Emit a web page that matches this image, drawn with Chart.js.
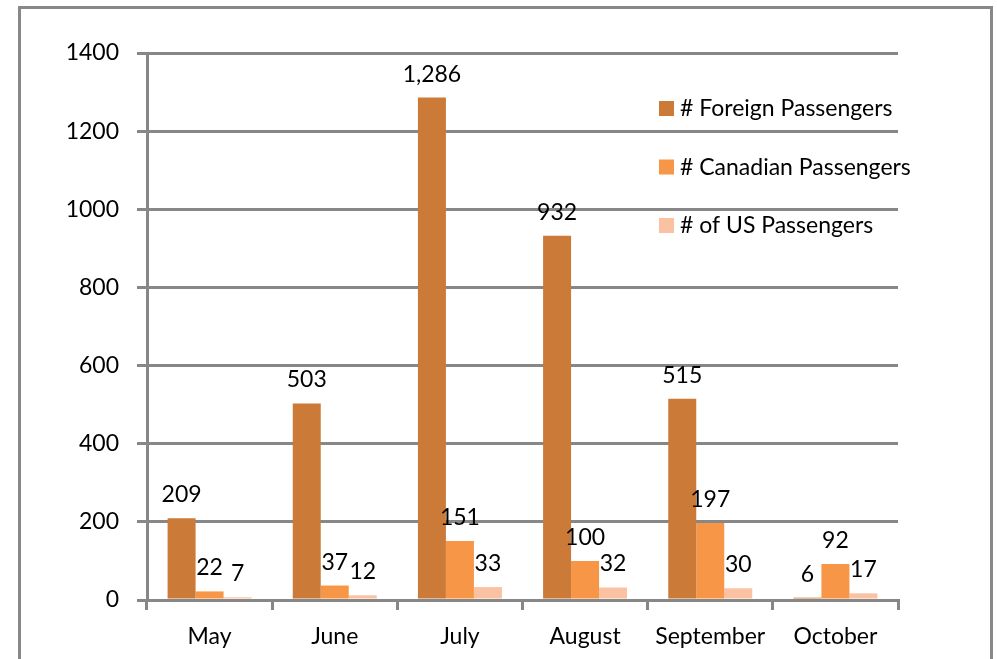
<!DOCTYPE html>
<html>
<head>
<meta charset="utf-8">
<script src="https://cdn.jsdelivr.net/npm/chart.js@4"></script>
<style>
    html, body { margin: 0; padding: 0; background: #fff; overflow: hidden; }
    #frame {
        position: absolute; left: 18px; top: 6px;
        width: 969px; height: 700px;
        border: 3px solid #888888;
    }
    #chart { position: absolute; left: 0; top: 0; }
</style>
</head>
<body>
<div id="frame"></div>
<canvas id="chart" width="997" height="659"></canvas>
<script>
// Chart data
const months = ['May', 'June', 'July', 'August', 'September', 'October'];
const foreignPassengers = [209, 503, 1286, 932, 515, 6];
const canadianPassengers = [22, 37, 151, 100, 197, 92];
const usPassengers = [7, 12, 33, 32, 30, 17];
const yTicks = [0, 200, 400, 600, 800, 1000, 1200, 1400];

const FONT = 'Lato, Calibri, sans-serif';
const FONT_SIZE = 23;
const GRID = '#878787';

// Value labels above each bar
const valueLabels = {
    id: 'valueLabels',
    afterDatasetsDraw(chart) {
        const ctx = chart.ctx;
        ctx.save();
        ctx.font = FONT_SIZE + 'px ' + FONT;
        ctx.fillStyle = '#000';
        ctx.textAlign = 'center';
        ctx.textBaseline = 'alphabetic';
        chart.data.datasets.forEach((ds, i) => {
            chart.getDatasetMeta(i).data.forEach((bar, j) => {
                ctx.fillText(ds.data[j].toLocaleString('en-US'), bar.x, bar.y - 16);
            });
        });
        ctx.restore();
    }
};

// Legend sitting inside the plot, top right
const boxLegend = {
    id: 'boxLegend',
    afterDraw(chart) {
        const ctx = chart.ctx;
        const x = chart.chartArea.right - 239;
        let y = chart.chartArea.top + 55;
        ctx.save();
        ctx.font = FONT_SIZE + 'px ' + FONT;
        ctx.textBaseline = 'middle';
        ctx.textAlign = 'left';
        chart.data.datasets.forEach(ds => {
            ctx.fillStyle = ds.backgroundColor;
            ctx.fillRect(x, y - 7, 15, 15);
            ctx.fillStyle = '#000';
            ctx.fillText(ds.label, x + 21, y + 1);
            y += 58.5;
        });
        ctx.restore();
    }
};

new Chart(document.getElementById('chart'), {
    type: 'bar',
    data: {
        labels: months,
        datasets: [
            { label: '# Foreign Passengers', data: foreignPassengers, backgroundColor: '#CC7A38' },
            { label: '# Canadian Passengers', data: canadianPassengers, backgroundColor: '#F79646' },
            { label: '# of US Passengers', data: usPassengers, backgroundColor: '#FAC2A3' }
        ]
    },
    options: {
        responsive: false,
        animation: false,
        events: [],
        categoryPercentage: 0.671,
        barPercentage: 1,
        layout: { padding: { top: 53, right: 99, left: 0, bottom: 0 } },
        plugins: {
            legend: { display: false },
            tooltip: { enabled: false }
        },
        scales: {
            x: {
                grid: {
                    drawOnChartArea: false,
                    drawTicks: true,
                    tickLength: 10,
                    color: GRID,
                    lineWidth: 3,
                    offset: true
                },
                border: { display: true, color: GRID, width: 3 },
                ticks: {
                    color: '#000',
                    font: { family: FONT, size: FONT_SIZE },
                    padding: 13
                },
                afterFit(scale) { scale.height = 59; }
            },
            y: {
                min: 0,
                max: 1400,
                afterBuildTicks(scale) { scale.ticks = yTicks.map(v => ({ value: v })); },
                grid: {
                    color: GRID,
                    lineWidth: 3,
                    tickLength: 10
                },
                border: { display: true, color: GRID, width: 3 },
                ticks: {
                    color: '#000',
                    font: { family: FONT, size: FONT_SIZE },
                    padding: 18,
                    callback: v => String(v)
                },
                afterFit(scale) { scale.width = 147; }
            }
        }
    },
    plugins: [valueLabels, boxLegend]
});
</script>
</body>
</html>
